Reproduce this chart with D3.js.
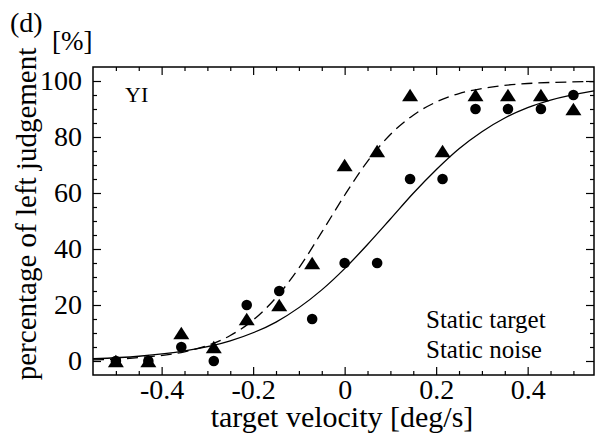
<!DOCTYPE html>
<html>
<head>
<meta charset="utf-8">
<script src="https://cdn.jsdelivr.net/npm/d3@7"></script>
<style>
  body { margin: 0; background: #fff; }
  svg text { font-family: "Liberation Serif", "DejaVu Serif", serif; fill: #000; }
</style>
</head>
<body>
<div id="vis"></div>
<script>
var width = 595;
var height = 433;

// stimulus velocities [deg/s]
var velocity = [-0.5, -0.429, -0.357, -0.286, -0.214, -0.143, -0.071, 0, 0.071, 0.143, 0.214, 0.286, 0.357, 0.429, 0.5];
// percentage of left judgement
var circleValues = [0, 0, 5, 0, 20, 25, 15, 35, 35, 65, 65, 90, 90, 90, 95];
var triangleValues = [0, 0, 10, 5, 15, 20, 35, 70, 75, 95, 75, 95, 95, 95, 90];

// fitted curves
var solidX = [-0.55, -0.45, -0.35, -0.25, -0.15, -0.05, 0, 0.05, 0.1, 0.15, 0.2, 0.25, 0.3, 0.35, 0.4, 0.45, 0.545];
var solidY = [0.8, 1.7, 3.6, 7.2, 13.9, 25.4, 33.0, 41.6, 50.7, 59.9, 68.3, 75.8, 81.9, 86.8, 90.5, 93.2, 96.5];
var dashX = [-0.55, -0.45, -0.35, -0.3, -0.25, -0.2, -0.15, -0.1, -0.05, 0, 0.05, 0.1, 0.15, 0.2, 0.25, 0.3, 0.4, 0.545];
var dashY = [0.4, 1.2, 3.3, 5.5, 9.1, 14.6, 22.6, 33.2, 46.0, 59.2, 71.3, 80.9, 87.8, 92.5, 95.5, 97.3, 99.1, 99.8];

var xMajor = [-0.4, -0.2, 0, 0.2, 0.4];
var yMajor = [0, 20, 40, 60, 80, 100];

var plotLeft = 93, plotRight = 594, plotTop = 67, plotBottom = 375;

var svg = d3.select('#vis')
    .append('svg')
    .attr('width', width)
    .attr('height', height);

var x = d3.scaleLinear().domain([-0.55, 0.545]).range([plotLeft, plotRight]);
var y = d3.scaleLinear().domain([-5, 105]).range([plotBottom, plotTop]);

var xMinor = d3.range(-0.5, 0.51, 0.05).filter(function (d) {
    return xMajor.every(function (m) { return Math.abs(m - d) > 1e-6; });
});
var yMinor = d3.range(5, 100, 5).filter(function (d) { return d % 20 != 0; });

function fmt(d) { return String(d); }
function noDomain(g) { g.select('.domain').remove(); }

// bottom axis
svg.append('g')
    .attr('transform', 'translate(0,' + plotBottom + ')')
    .call(d3.axisBottom(x).tickValues(xMajor).tickSize(-8).tickPadding(4).tickFormat(fmt))
    .call(noDomain)
    .selectAll('text').style('font-size', '28px').style('font-family', '"Liberation Serif", serif');
svg.append('g')
    .attr('transform', 'translate(0,' + plotBottom + ')')
    .call(d3.axisBottom(x).tickValues(xMinor).tickSize(-4).tickFormat(''))
    .call(noDomain);
// top axis
svg.append('g')
    .attr('transform', 'translate(0,' + plotTop + ')')
    .call(d3.axisTop(x).tickValues(xMajor).tickSize(-8).tickFormat(''))
    .call(noDomain);
svg.append('g')
    .attr('transform', 'translate(0,' + plotTop + ')')
    .call(d3.axisTop(x).tickValues(xMinor).tickSize(-4).tickFormat(''))
    .call(noDomain);
// left axis
svg.append('g')
    .attr('transform', 'translate(' + plotLeft + ',0)')
    .call(d3.axisLeft(y).tickValues(yMajor).tickSize(-8).tickPadding(11).tickFormat(fmt))
    .call(noDomain)
    .selectAll('text').style('font-size', '28px').style('font-family', '"Liberation Serif", serif');
svg.append('g')
    .attr('transform', 'translate(' + plotLeft + ',0)')
    .call(d3.axisLeft(y).tickValues(yMinor).tickSize(-4).tickFormat(''))
    .call(noDomain);
// right axis
svg.append('g')
    .attr('transform', 'translate(' + plotRight + ',0)')
    .call(d3.axisRight(y).tickValues(yMajor).tickSize(-8).tickFormat(''))
    .call(noDomain);
svg.append('g')
    .attr('transform', 'translate(' + plotRight + ',0)')
    .call(d3.axisRight(y).tickValues(yMinor).tickSize(-4).tickFormat(''))
    .call(noDomain);

svg.selectAll('.tick line').attr('stroke', '#000').attr('stroke-width', 1.2);

// frame
svg.append('rect')
    .attr('x', plotLeft)
    .attr('y', plotTop)
    .attr('width', plotRight - plotLeft)
    .attr('height', plotBottom - plotTop)
    .attr('fill', 'none')
    .attr('stroke', '#000')
    .attr('stroke-width', 1.5);

// fitted curves
var line = d3.line()
    .x(function (d) { return x(d[0]); })
    .y(function (d) { return y(d[1]); })
    .curve(d3.curveMonotoneX);

svg.append('path')
    .datum(solidX.map(function (v, i) { return [v, solidY[i]]; }))
    .attr('d', line)
    .attr('fill', 'none')
    .attr('stroke', '#000')
    .attr('stroke-width', 1.3);

svg.append('path')
    .datum(dashX.map(function (v, i) { return [v, dashY[i]]; }))
    .attr('d', line)
    .attr('fill', 'none')
    .attr('stroke', '#000')
    .attr('stroke-width', 1.3)
    .attr('stroke-dasharray', '11,6');

// markers
svg.append('g').selectAll('circle')
    .data(velocity)
    .enter().append('circle')
    .attr('cx', function (d) { return x(d); })
    .attr('cy', function (d, i) { return y(circleValues[i]); })
    .attr('r', 5.3)
    .attr('fill', '#000');

// flat triangle, centred on its box
var triW = 16, triH = 12.5;
svg.append('g').selectAll('path')
    .data(velocity)
    .enter().append('path')
    .attr('d', function (d, i) {
        var cx = x(d), cy = y(triangleValues[i]);
        var p = d3.path();
        p.moveTo(cx, cy - triH / 2);
        p.lineTo(cx + triW / 2, cy + triH / 2);
        p.lineTo(cx - triW / 2, cy + triH / 2);
        p.closePath();
        return p.toString();
    })
    .attr('fill', '#000');

// texts
svg.append('text')
    .attr('x', 125).attr('y', 102)
    .style('font-size', '22px')
    .text('YI');

svg.append('text')
    .attr('x', 426).attr('y', 328)
    .style('font-size', '25px')
    .text('Static target');
svg.append('text')
    .attr('x', 426).attr('y', 358)
    .style('font-size', '25px')
    .text('Static noise');

svg.append('text')
    .attr('x', 10).attr('y', 32)
    .style('font-size', '28px')
    .text('(d)');
svg.append('text')
    .attr('x', 52).attr('y', 50)
    .style('font-size', '27px')
    .text('[%]');

svg.append('text')
    .attr('transform', 'translate(36,214) rotate(-90)')
    .attr('text-anchor', 'middle')
    .style('font-size', '29px')
    .text('percentage of left judgement');

svg.append('text')
    .attr('x', 342).attr('y', 427)
    .attr('text-anchor', 'middle')
    .style('font-size', '30px')
    .text('target velocity [deg/s]');
</script>
</body>
</html>
